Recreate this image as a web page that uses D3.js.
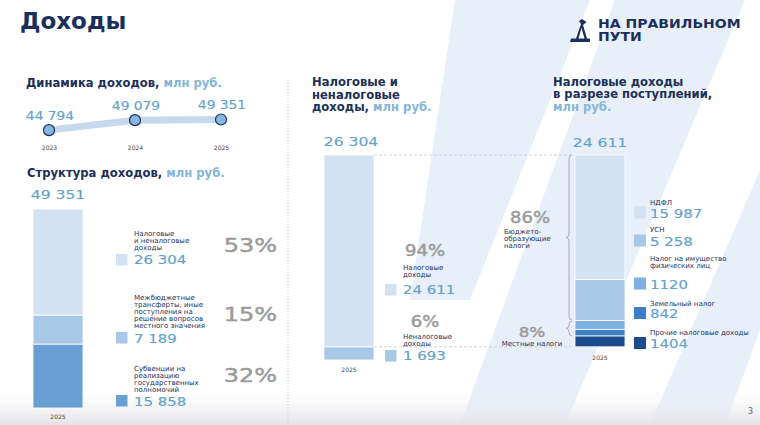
<!DOCTYPE html>
<html><head><meta charset="utf-8">
<script src="https://cdn.jsdelivr.net/npm/d3@7"></script>
<style>html,body{margin:0;padding:0;background:#fff;}svg{display:block;}</style>
</head><body>
<script>
// ---------- DATA ----------
const dynYears = ["2023", "2024", "2025"];
const dynValues = [44794, 49079, 49351];
const dynLabels = ["44 794", "49 079", "49 351"];

const structYear = "2025";
const structTotalLabel = "49 351";
const structCategories = [
  ["Налоговые", "и неналоговые", "доходы"],
  ["Межбюджетные", "трансферты, иные", "поступления на", "решение вопросов", "местного значения"],
  ["Субвенции на", "реализацию", "государственных", "полномочий"]
];
const structValues = [26304, 7189, 15858];
const structLabels = ["26 304", "7 189", "15 858"];
const structPct = ["53%", "15%", "32%"];

const taxTotalLabel = "26 304";
const taxCategories = [["Налоговые", "доходы"], ["Неналоговые", "доходы"]];
const taxValues = [24611, 1693];
const taxLabels = ["24 611", "1 693"];
const taxPct = ["94%", "6%"];

const revTotalLabel = "24 611";
const revCategories = [["НДФЛ"], ["УСН"], ["Налог на имущество", "физических лиц"], ["Земельный налог"], ["Прочие налоговые доходы"]];
const revValues = [15987, 5258, 1120, 842, 1404];
const revLabels = ["15 987", "5 258", "1120", "842", "1404"];
const revGroupPct = ["86%", "8%"];
const revGroupNames = [["Бюджето-", "образующие", "налоги"], ["Местные налоги"]];

// ---------- STYLE ----------
const F = "DejaVu Sans";
const NAVY = "#1c2f57", NUM = "#62a2ca", PCT = "#9a9a9a", SUB = "#84b5d9";
const structColors = ["#d3e2f2", "#a9c8e8", "#6a9fd6"];
const taxColors = ["#d3e2f2", "#a9c8e8"];
const revColors = ["#d3e2f2", "#a9c8e8", "#7eb0e1", "#3c7fc6", "#1c4b8c"];

const svg = d3.select("body").append("svg").attr("width", 760).attr("height", 425);
svg.append("rect").attr("width", 760).attr("height", 425).attr("fill", "#fff");

// background decoration
const deco = svg.append("g").attr("fill", "#e8eff8");
[
  [[455,0],[590,0],[470,300],[410,300]],
  [[615,0],[745,0],[565,425],[460,425]],
  [[760,170],[760,330],[725,425],[650,425]]
].forEach(p => deco.append("polygon").attr("points", p.map(d => d.join(",")).join(" ")));
const defs = svg.append("defs");
const gr = defs.append("linearGradient").attr("id", "bot").attr("x1", 0).attr("y1", 0).attr("x2", 0).attr("y2", 1);
gr.append("stop").attr("offset", 0).attr("stop-color", "#f0f0f2").attr("stop-opacity", 0);
gr.append("stop").attr("offset", 1).attr("stop-color", "#e4e4e8").attr("stop-opacity", 1);
svg.append("rect").attr("x", 0).attr("y", 392).attr("width", 760).attr("height", 33).attr("fill", "url(#bot)");

function txt(parent, x, y, s, o = {}) {
  const t = parent.append("text")
    .attr("transform", `translate(${x},${y}) scale(${o.sx || 1},1)`)
    .attr("text-anchor", o.anchor || "start")
    .attr("font-family", o.family || F)
    .attr("font-size", o.size || 7.5)
    .attr("font-weight", o.weight || "normal")
    .attr("fill", o.fill || NAVY)
    .text(s);
  if (o.stroke) t.attr("stroke", o.fill || NAVY).attr("stroke-width", o.stroke);
  return t;
}
function lines(parent, x, y, arr, lh, o) { arr.forEach((s, i) => txt(parent, x, y + i * lh, s, o)); }
function subtitle(x, y, main, unit, size) {
  const t = svg.append("text").attr("x", x).attr("y", y).attr("font-family", F).attr("font-weight", "bold").attr("font-size", size);
  t.append("tspan").attr("fill", NAVY).text(main);
  if (unit) t.append("tspan").attr("fill", SUB).text(unit);
}
const numO = (size, sx) => ({ size, sx, fill: NUM, stroke: 0.15 });
const pctO = (size, anchor) => ({ size, sx: 1.2, fill: PCT, anchor, stroke: 0.45 });

// ---------- HEADER ----------
txt(svg, 20, 29, "Доходы", { size: 23, weight: "bold", fill: "#1b2f5b" });
// logo
const logo = svg.append("g").attr("fill", "#1b2f5b");
logo.append("path").attr("d", "M570,42 L590,42 L590,38.5 L587,38.5 L583,25 L586.5,22 L582,19 L579,21 L581,24 L576,38.5 L571,38.5 Z");
logo.append("path").attr("fill", "#fff").attr("d", "M578.5,38.5 L581.5,28 L584.5,38.5 Z");
txt(svg, 598, 28.3, "НА ПРАВИЛЬНОМ", { size: 11.7, weight: "bold", fill: "#1b2f5b", sx: 1.2 });
txt(svg, 598, 40.7, "ПУТИ", { size: 11.7, weight: "bold", fill: "#1b2f5b", sx: 1.2 });
txt(svg, 753, 414, "3", { size: 8, fill: "#666", anchor: "end" });

// separator
svg.append("line").attr("x1", 288).attr("x2", 288).attr("y1", 80).attr("y2", 425)
  .attr("stroke", "#c9c9cf").attr("stroke-width", 1).attr("stroke-dasharray", "1,2");

// ---------- DYNAMICS ----------
subtitle(26, 86.5, "Динамика доходов, ", "млн руб.", 11.6);
const xDyn = d3.scalePoint().domain(dynYears).range([49, 221]);
const yDyn = d3.scaleLinear().domain([44000, 50000]).range([132, 118]);
const gDyn = svg.append("g");
gDyn.append("path").datum(dynValues)
  .attr("d", d3.line().x((d, i) => xDyn(dynYears[i])).y(d => yDyn(d)))
  .attr("fill", "none").attr("stroke", "#c7d9ed").attr("stroke-width", 7).attr("stroke-linecap", "round");
gDyn.selectAll("circle").data(dynValues).join("circle")
  .attr("cx", (d, i) => xDyn(dynYears[i])).attr("cy", d => yDyn(d)).attr("r", 5.5)
  .attr("fill", "#86b7e0").attr("stroke", NAVY).attr("stroke-width", 1.2);
dynValues.forEach((v, i) => txt(gDyn, xDyn(dynYears[i]) + 1, yDyn(v) - 10.5, dynLabels[i], { ...numO(12, 1.15), anchor: "middle" }));
const xAx = svg.append("g").attr("transform", "translate(0,150)")
  .call(d3.axisBottom(xDyn).tickSize(0).tickPadding(0));
xAx.select(".domain").remove();
xAx.selectAll("text").attr("font-family", F).attr("font-size", 6).attr("fill", "#444").attr("dy", 0);

// ---------- STRUCTURE ----------
subtitle(27, 177, "Структура доходов, ", "млн руб.", 11.6);
const sTotal = d3.sum(structValues);
const yS = d3.scaleLinear().domain([0, sTotal]).range([0, 199]);
const sBottom = 408, sX = 33, bw = 50;
const gS = svg.append("g");
let acc = 0;
[2, 1, 0].forEach(i => {
  const h = yS(structValues[i]);
  gS.append("rect").attr("x", sX).attr("y", sBottom - yS(acc) - h).attr("width", bw).attr("height", h)
    .attr("fill", structColors[i]).attr("stroke", "#fff").attr("stroke-width", 0.8);
  acc += structValues[i];
});
txt(gS, sX + bw / 2, sBottom - yS(sTotal) - 10, structTotalLabel, { ...numO(13, 1.2), anchor: "middle" });
txt(gS, sX + bw / 2, 419, structYear, { size: 6, fill: "#444", anchor: "middle" });
const sLeg = [{ sq: 254, lab: 235.5, val: 264, pct: 252 }, { sq: 332, lab: 300, val: 343, pct: 321 }, { sq: 395, lab: 371, val: 406, pct: 382 }];
structValues.forEach((v, i) => {
  const L = sLeg[i];
  gS.append("rect").attr("x", 116).attr("y", L.sq).attr("width", 11.5).attr("height", 11.5).attr("fill", structColors[i]);
  lines(gS, 134, L.lab, structCategories[i], 7, { size: 7 });
  txt(gS, 134, L.val, structLabels[i], numO(11.5, 1.3));
  txt(gS, 277, L.pct, structPct[i], pctO(20, "end"));
});

// ---------- TAX & NON-TAX ----------
subtitle(312, 86, "Налоговые и", null, 11.6);
subtitle(312, 98.5, "неналоговые", null, 11.6);
subtitle(312, 111, "доходы, ", "млн руб.", 11.6);
const tTotal = d3.sum(taxValues);
const yT = d3.scaleLinear().domain([0, tTotal]).range([0, 205]);
const tBottom = 360, tX = 324;
const gT = svg.append("g");
acc = 0;
[1, 0].forEach(i => {
  const h = yT(taxValues[i]);
  gT.append("rect").attr("x", tX).attr("y", tBottom - yT(acc) - h).attr("width", bw).attr("height", h)
    .attr("fill", taxColors[i]).attr("stroke", "#fff").attr("stroke-width", 0.8);
  acc += taxValues[i];
});
txt(gT, tX + bw / 2 + 2, tBottom - yT(tTotal) - 9, taxTotalLabel, { ...numO(13, 1.2), anchor: "middle" });
txt(gT, tX + bw / 2, 372, structYear, { size: 6, fill: "#444", anchor: "middle" });
const tLeg = [{ sq: 284, lab: 269.5, val: 294, pct: 256 }, { sq: 350, lab: 339, val: 360, pct: 327 }];
taxValues.forEach((v, i) => {
  const L = tLeg[i];
  gT.append("rect").attr("x", 385).attr("y", L.sq).attr("width", 11.5).attr("height", 11.5).attr("fill", taxColors[i]);
  lines(gT, 403, L.lab, taxCategories[i], 7, { size: 7 });
  txt(gT, 403, L.val, taxLabels[i], numO(11.5, 1.3));
  txt(gT, 425, L.pct, taxPct[i], pctO(15, "middle"));
});

// ---------- TAX BY SOURCE ----------
subtitle(553, 85.5, "Налоговые доходы", null, 11.6);
subtitle(553, 98, "в разрезе поступлений,", null, 11.6);
const unitT = svg.append("text").attr("x", 553).attr("y", 110.5).attr("font-family", F).attr("font-weight", "bold").attr("font-size", 11.6).attr("fill", SUB).text("млн руб.");
const rBottom = tBottom - yT(taxValues[1]), rX = 575;
const gR = svg.append("g");
acc = 0;
const segTop = [];
[4, 3, 2, 1, 0].forEach(i => {
  const h = yT(revValues[i]);
  const y = rBottom - yT(acc) - h;
  segTop[i] = y;
  gR.append("rect").attr("x", rX).attr("y", y).attr("width", bw).attr("height", h)
    .attr("fill", revColors[i]).attr("stroke", "#fff").attr("stroke-width", 0.8);
  acc += revValues[i];
});
const rTop = rBottom - yT(d3.sum(revValues));
txt(gR, rX + bw / 2, rTop - 8.5, revTotalLabel, { ...numO(13, 1.2), anchor: "middle" });
txt(gR, rX + bw / 2, 360, structYear, { size: 6, fill: "#444", anchor: "middle" });

// dashed connectors
const dash = svg.append("g").attr("stroke", "#c4c8d0").attr("stroke-width", 0.8).attr("stroke-dasharray", "3,2");
dash.append("line").attr("x1", tX + bw).attr("x2", 571).attr("y1", rTop).attr("y2", rTop);
dash.append("line").attr("x1", tX + bw).attr("x2", rX).attr("y1", rBottom).attr("y2", rBottom);

// braces
function brace(x, y1, y2, d) {
  const m = (y1 + y2) / 2, r = Math.min(4, (y2 - y1) / 4);
  return `M${x},${y1} Q${x - d},${y1} ${x - d},${y1 + r} L${x - d},${m - r} Q${x - d},${m} ${x - 2 * d},${m} Q${x - d},${m} ${x - d},${m + r} L${x - d},${y2 - r} Q${x - d},${y2} ${x},${y2}`;
}
const gB = svg.append("g").attr("fill", "none").attr("stroke", "#959cab").attr("stroke-width", 0.8);
gB.append("path").attr("d", brace(572, rTop, segTop[1] + yT(revValues[1]) - 0.5, 3));
gB.append("path").attr("d", brace(572, segTop[2] + 0.5, segTop[3] + yT(revValues[3]), 3));

txt(gR, 530, 223, revGroupPct[0], pctO(15, "middle"));
lines(gR, 504, 234, revGroupNames[0], 7, { size: 7 });
txt(gR, 532, 337, revGroupPct[1], pctO(14, "middle"));
lines(gR, 532, 345.5, revGroupNames[1], 7, { size: 7, anchor: "middle" });

const rLeg = [{ sq: 206.5, lab: 205, val: 218 }, { sq: 234.5, lab: 232, val: 246 }, { sq: 277.5, lab: 268, val: 289 }, { sq: 307, lab: 306, val: 318 }, { sq: 337, lab: 335, val: 348 }];
revValues.forEach((v, i) => {
  const L = rLeg[i];
  gR.append("rect").attr("x", 634).attr("y", L.sq).attr("width", 12).attr("height", 12).attr("fill", revColors[i]);
  const nl = revCategories[i].length;
  lines(gR, 650, L.lab - (nl - 1) * 7.5, revCategories[i], 7.5, { size: 7 });
  txt(gR, 650, L.val, revLabels[i], numO(11.5, 1.3));
});
</script>
</body></html>
